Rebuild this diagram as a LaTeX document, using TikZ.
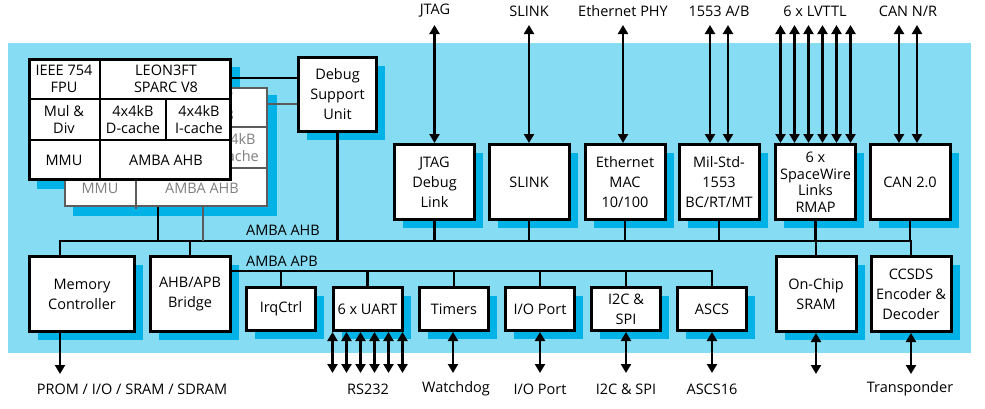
\documentclass[tikz,border=0pt]{standalone}
\usepackage{fontspec}
\setmainfont{Open Sans}
\usetikzlibrary{arrows.meta,shadows,calc}
\definecolor{bgblue}{HTML}{86DCF3}
\definecolor{shblue}{HTML}{00B2E6}
\definecolor{backgray}{HTML}{5C5C5C}
\definecolor{textgray}{HTML}{808080}
\newcommand{\leongridlines}[1]{%
  \draw[#1,line width=2.2pt] (28,99) -- (232,99) (28,140) -- (232,140) (100,58) -- (100,181) (166,99) -- (166,140);
}
\begin{document}
\begin{tikzpicture}[x=1pt,y=-1pt,
  shd/.style={drop shadow={shadow xshift=8.5pt,shadow yshift=-8.5pt,fill=shblue,opacity=1}},
  blk/.style={draw=black,line width=3pt,fill=white,align=center,inner sep=1pt,
    font=\fontsize{14.5}{20}\selectfont,shd},
  tall/.style={blk,minimum width=80,minimum height=75},
  small/.style={blk,minimum width=69,minimum height=43},
  bus/.style={line width=2.8pt,black},
  gbus/.style={line width=2.8pt,backgray},
  dbl/.style={line width=2.8pt,{Triangle[width=10pt,length=9pt]}-{Triangle[width=10pt,length=9pt]}},
  sgl/.style={line width=2.8pt,-{Triangle[width=10pt,length=9pt]}},
  lbl/.style={font=\fontsize{14.5}{16}\selectfont,inner sep=0pt},
  cell/.style={align=center,font=\fontsize{14.5}{17}\selectfont,inner sep=0pt},
  gcell/.style={cell,text=textgray},
]
\useasboundingbox (0,0) rectangle (985,408);
\fill[bgblue] (8,43) rectangle (971,353);

% processor (back copy, partly hidden, and front)
\fill[shblue] (37,67) rectangle (240,189);
\fill[shblue] (73,95) rectangle (277,216);
\node[draw=backgray,line width=2.8pt,fill=white,minimum width=202,minimum height=118,inner sep=0pt] (cpub) at (166,147) {};
\begin{scope}[shift={(36,28)}]
  \leongridlines{backgray}
  \node[gcell] (bleon) at (166,78.5) {LEON3FT\\SPARC V8};
  \node[gcell] (bic) at (199,119.5) {4x4kB\\I-cache};
  \node[gcell] (bmmu) at (64,160.5) {MMU};
  \node[gcell] (bahb) at (166,160.5) {AMBA AHB};
\end{scope}
\node[draw=black,line width=3.2pt,fill=white,minimum width=201,minimum height=120,inner sep=0pt] (cpu) at (130,119.5) {};
\leongridlines{black}
\node[cell] (ffpu) at (64,78.5) {IEEE 754\\FPU};
\node[cell] (fleon) at (166,78.5) {LEON3FT\\SPARC V8};
\node[cell] (fmul) at (64,119.5) {Mul \&\\Div};
\node[cell] (fdc) at (133,119.5) {4x4kB\\D-cache};
\node[cell] (fic) at (199,119.5) {4x4kB\\I-cache};
\node[cell] (fmmu) at (64,160.5) {MMU};
\node[cell] (fahb) at (166,160.5) {AMBA AHB};

\node[blk,minimum width=78,minimum height=74] (dsu) at (337.5,94.5) {Debug\\Support\\Unit};

% top row
\node[tall] (jtagb) at (434.5,182) {JTAG\\Debug\\Link};
\node[tall] (slinkb) at (529,182) {SLINK};
\node[tall] (ethb) at (625,182) {Ethernet\\MAC\\10/100};
\node[tall] (milb) at (719,182) {Mil-Std-\\1553\\BC/RT/MT};
\node[tall,font=\fontsize{14.5}{16.5}\selectfont] (spwb) at (815.5,182) {6 x\\SpaceWire\\Links\\RMAP};
\node[tall] (canb) at (910,182) {CAN 2.0};

% lower row
\node[blk,minimum width=105,minimum height=75] (memc) at (82,294) {Memory\\Controller};
\node[tall] (bridge) at (190,294) {AHB/APB\\Bridge};
\node[tall] (sram) at (816,294) {On-Chip\\SRAM};
\node[tall] (ccsds) at (911,294) {CCSDS\\Encoder \&\\Decoder};

\node[small] (irq) at (281,309) {IrqCtrl};
\node[small] (uart) at (367.5,309) {6 x UART};
\node[small] (timers) at (454,309) {Timers};
\node[small] (iop) at (540,309) {I/O Port};
\node[small] (i2c) at (626,309) {I2C \&\\SPI};
\node[small] (ascs) at (712,309) {ASCS};

% AHB bus
\coordinate (ahbW) at (60,241);
\coordinate (ahbE) at (911,241);
\coordinate (cputap) at (158,241);
\coordinate (gtap) at (203,241);
\draw[bus] (memc.north -| ahbW) -- (ahbW) -- (ahbE) -- (ccsds.north);
\draw[bus] (cpub.south -| cputap) -- (cputap);
\draw[gbus] (cpub.south -| gtap) -- (gtap);
\coordinate (dsuY) at (0,78);
\draw[bus] (cpu.east |- dsuY) -- (dsu.west |- dsuY);
\coordinate (gY) at (0,104);
\draw[gbus] (cpub.east |- gY) -- (dsu.west |- gY);
\foreach \n in {dsu,jtagb,slinkb,ethb,milb,spwb,canb}
  \draw[bus] (\n.south) -- (\n.south |- ahbW);
\draw[bus] (bridge.north) -- (bridge.north |- ahbW);
\draw[bus] (sram.north) -- (sram.north |- ahbW);
\node[lbl] (ahblbl) at (283,230) {AMBA AHB};

% APB bus
\coordinate (apbE) at (712,271);
\draw[bus] (bridge.east |- apbE) -- (apbE) -- (ascs.north);
\foreach \n in {irq,uart,timers,iop,i2c}
  \draw[bus] (\n.north) -- (\n.north |- apbE);
\node[lbl] (apblbl) at (282,261) {AMBA APB};

% top arrows and labels
\draw[dbl] (jtagb.north) -- ++(0,-118);
\draw[dbl] (slinkb.north) -- ++(0,-118);
\draw[dbl] ([xshift=-2pt]ethb.north) -- ++(0,-118);
\foreach \dx in {-9,9} \draw[dbl] ([xshift=\dx pt]milb.north) -- ++(0,-118);
\foreach \dx in {-35,-21,-7,7,21,35} \draw[dbl] ([xshift=\dx pt]spwb.north) -- ++(0,-118);
\foreach \dx in {-11,7} \draw[dbl] ([xshift=\dx pt]canb.north) -- ++(0,-118);
\node[lbl] (tl1) at (435,11) {JTAG};
\node[lbl] (tl2) at (529,11) {SLINK};
\node[lbl] (tl3) at (623,11) {Ethernet PHY};
\node[lbl] (tl4) at (719,11) {1553 A/B};
\node[lbl] (tl5) at (815,11) {6 x LVTTL};
\node[lbl] (tl6) at (908,11) {CAN N/R};

% bottom arrows and labels
\draw[sgl] (memc.south -| ahbW) -- ++(0,41);
\foreach \dx in {-35,-21,-7,7,21,35} \draw[dbl] ([xshift=\dx pt]uart.south) -- ++(0,41);
\draw[dbl] ([xshift=-1pt]timers.south) -- ++(0,41);
\draw[dbl] (iop.south) -- ++(0,41);
\draw[dbl] (i2c.south) -- ++(0,41);
\draw[dbl] (ascs.south) -- ++(0,41);
\draw[dbl] (sram.south) -- ++(0,41);
\draw[dbl] (ccsds.south) -- ++(0,41);
\node[lbl] (bl1) at (132,389) {PROM / I/O / SRAM / SDRAM};
\node[lbl] (bl2) at (368,389) {RS232};
\node[lbl] (bl3) at (456,389) {Watchdog};
\node[lbl] (bl4) at (540,389) {I/O Port};
\node[lbl] (bl5) at (626,389) {I2C \& SPI};
\node[lbl] (bl6) at (712,389) {ASCS16};
\node[lbl] (bl7) at (910,389) {Transponder};
\end{tikzpicture}
\end{document}
